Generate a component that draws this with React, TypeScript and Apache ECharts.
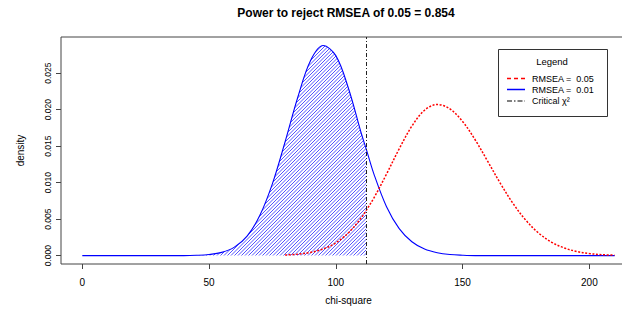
import React, { useEffect, useRef } from "react";
import * as echarts from "echarts";

// chi-square values (x) at which the densities were read
const chiSquare = [
  0, 5, 10, 15, 20, 25, 30, 35, 40, 45, 50, 55, 60, 65, 70, 75, 80, 85, 90, 95,
  100, 105, 110, 112, 115, 120, 125, 130, 135, 140, 145, 150, 155, 160, 165,
  170, 175, 180, 185, 190, 195, 200, 205, 210,
];
// density, RMSEA = 0.01 (blue, solid)
const densityRmsea001 = [
  0, 0, 0, 0, 0, 0, 0, 0, 0, 0.00004, 0.00015, 0.00044, 0.00116, 0.00268,
  0.00548, 0.00986, 0.0156, 0.0217, 0.0267, 0.02878, 0.0274, 0.0229, 0.0168,
  0.0146, 0.0112, 0.0067, 0.0037, 0.0019, 0.0009, 0.0004, 0.00015, 0.00005, 0,
  0, 0, 0, 0, 0, 0, 0, 0, 0, 0, 0,
];
// density, RMSEA = 0.05 (red, dashed); null = not drawn
const densityRmsea005 = [
  null, null, null, null, null, null, null, null, null, null, null, null, null,
  null, null, null, 0.00008, 0.00019, 0.00044, 0.00091, 0.00175, 0.00313,
  0.00516, 0.0062, 0.00789, 0.01117, 0.01463, 0.01774, 0.01992, 0.0207, 0.0201,
  0.01838, 0.01584, 0.01286, 0.00984, 0.00709, 0.00482, 0.00309, 0.00186,
  0.00106, 0.00057, 0.00028, 0.00013, 0.00006,
];
const criticalChiSquare = 112;
const xTicks = [0, 50, 100, 150, 200];
const yTicks = [0, 0.005, 0.01, 0.015, 0.02, 0.025];
const titleText = "Power to reject RMSEA of 0.05 = 0.854";
const legendLabels = ["RMSEA =  0.05", "RMSEA =  0.01", "Critical χ²"];

const FONT = "'Liberation Sans', Arial, sans-serif";
const CHART_W = 640;

function makeHatch(): HTMLCanvasElement {
  const size = 7;
  const c = document.createElement("canvas");
  c.width = size;
  c.height = size;
  const ctx = c.getContext("2d")!;
  ctx.strokeStyle = "rgba(0,0,255,0.75)";
  ctx.lineWidth = 0.9;
  for (let k = -3; k <= 5; k++) {
    const o = k * 3.5;
    ctx.beginPath();
    ctx.moveTo(o, size);
    ctx.lineTo(o + size, 0);
    ctx.stroke();
  }
  return c;
}

export default function App() {
  const ref = useRef<HTMLDivElement>(null);
  useEffect(() => {
    if (!ref.current) return;
    const chart = echarts.init(ref.current, null, { renderer: "svg" });
    const blue = chiSquare.map((x, i) => [x, densityRmsea001[i]]);
    const red = chiSquare
      .map((x, i) => [x, densityRmsea005[i]])
      .filter((p) => p[1] !== null);
    const hatch = blue.filter((p) => (p[0] as number) <= criticalChiSquare);
    const hatchCanvas = makeHatch();

    chart.setOption({
      animation: false,
      backgroundColor: "#ffffff",
      textStyle: { fontFamily: FONT },
      title: {
        text: titleText,
        left: 346,
        textAlign: "center",
        top: 7,
        padding: 0,
        textStyle: { fontSize: 12, fontWeight: "bold", color: "#000", fontFamily: FONT },
      },
      grid: {
        left: 61,
        right: CHART_W - 636,
        top: 37,
        bottom: 317 - 264,
        show: true,
        borderColor: "#444",
        borderWidth: 1,
        backgroundColor: "transparent",
      },
      xAxis: {
        type: "value",
        min: -8.4,
        max: 218.4,
        name: "chi-square",
        nameLocation: "middle",
        nameGap: 31,
        nameTextStyle: { fontSize: 10, color: "#000", fontFamily: FONT },
        axisLine: { show: false, onZero: false },
        splitLine: { show: false },
        axisTick: { show: true, inside: false, length: 5, customValues: xTicks, lineStyle: { color: "#444" } },
        axisLabel: { customValues: xTicks, fontSize: 10, color: "#000", margin: 13, fontFamily: FONT },
      },
      yAxis: {
        type: "value",
        min: -0.00115,
        max: 0.02995,
        name: "density",
        nameLocation: "middle",
        nameGap: 36,
        nameTextStyle: { fontSize: 10, color: "#000", fontFamily: FONT },
        axisLine: { show: false, onZero: false },
        splitLine: { show: false },
        axisTick: { show: true, inside: false, length: 5, customValues: yTicks, lineStyle: { color: "#444" } },
        axisLabel: {
          customValues: yTicks,
          rotate: 90,
          fontSize: 8.5,
          color: "#000",
          margin: 9,
          fontFamily: FONT,
          formatter: (v: number) => v.toFixed(3),
        },
      },
      series: [
        {
          name: "hatch",
          type: "line",
          data: hatch,
          smooth: 0.35,
          showSymbol: false,
          silent: true,
          lineStyle: { width: 0, color: "#0000ff" },
          areaStyle: {
            color: { image: hatchCanvas, repeat: "repeat", imageWidth: 7, imageHeight: 7 },
            opacity: 1,
          },
          z: 1,
          markLine: {
            silent: true,
            symbol: ["none", "none"],
            label: { show: false },
            lineStyle: { color: "#222", width: 1, type: [4, 2, 1, 2] },
            data: [{ xAxis: criticalChiSquare }],
          },
        },
        {
          name: legendLabels[1],
          type: "line",
          data: blue,
          smooth: 0.35,
          showSymbol: false,
          lineStyle: { width: 1.1, color: "#0000ff" },
          itemStyle: { color: "#0000ff" },
          z: 3,
        },
        {
          name: legendLabels[0],
          type: "line",
          data: red,
          smooth: 0.35,
          showSymbol: false,
          lineStyle: { width: 1.5, color: "#ff0000", type: [2, 1.6] },
          itemStyle: { color: "#ff0000" },
          z: 4,
        },
      ],
      graphic: [
        {
          type: "rect",
          shape: { x: 498.5, y: 49.5, width: 109, height: 67 },
          style: { fill: "#fff", stroke: "#333", lineWidth: 1 },
          z: 10,
        },
        {
          type: "text",
          x: 552,
          y: 61,
          style: { text: "Legend", fontSize: 9.5, fill: "#000", align: "center", verticalAlign: "middle", fontFamily: FONT },
          z: 11,
        },
        {
          type: "line",
          shape: { x1: 507, y1: 78.5, x2: 525, y2: 78.5 },
          style: { stroke: "#ff0000", lineWidth: 1.5, lineDash: [4, 3] },
          z: 11,
        },
        {
          type: "text",
          x: 532,
          y: 78.5,
          style: { text: legendLabels[0], fontSize: 9, fill: "#000", verticalAlign: "middle", fontFamily: FONT },
          z: 11,
        },
        {
          type: "line",
          shape: { x1: 507, y1: 89.5, x2: 525, y2: 89.5 },
          style: { stroke: "#0000ff", lineWidth: 1.5 },
          z: 11,
        },
        {
          type: "text",
          x: 532,
          y: 89.5,
          style: { text: legendLabels[1], fontSize: 9, fill: "#000", verticalAlign: "middle", fontFamily: FONT },
          z: 11,
        },
        {
          type: "line",
          shape: { x1: 507, y1: 101, x2: 525, y2: 101 },
          style: { stroke: "#000", lineWidth: 1.2, lineDash: [5, 2, 1.5, 2] },
          z: 11,
        },
        {
          type: "text",
          x: 532,
          y: 101,
          style: { text: legendLabels[2], fontSize: 9, fill: "#000", verticalAlign: "middle", fontFamily: FONT },
          z: 11,
        },
      ],
    });
    return () => chart.dispose();
  }, []);

  return (
    <div style={{ position: "absolute", left: 0, top: 0, width: 622, height: 317, overflow: "hidden" }}>
      <div ref={ref} style={{ width: CHART_W, height: 317 }} />
    </div>
  );
}
